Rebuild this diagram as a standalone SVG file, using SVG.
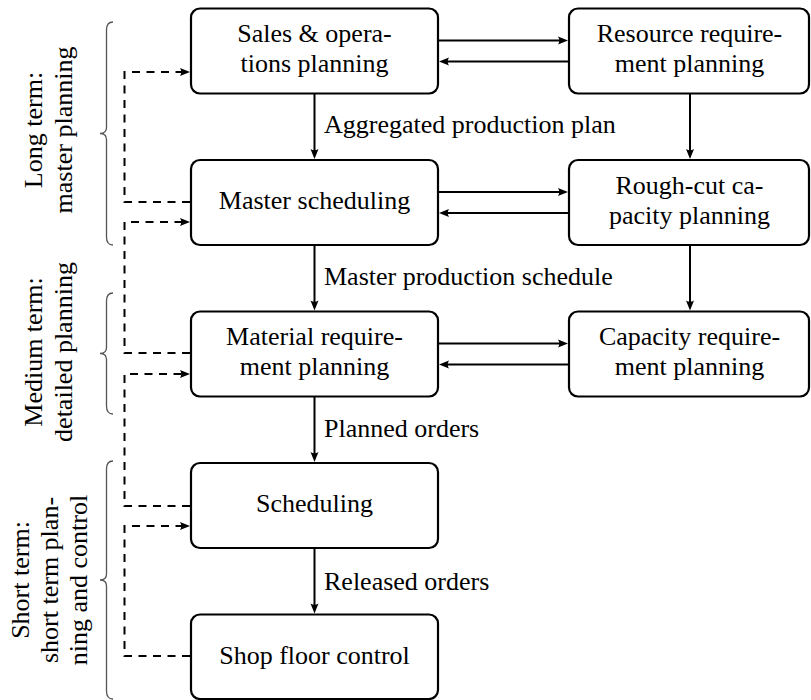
<svg xmlns="http://www.w3.org/2000/svg" width="811" height="700" viewBox="0 0 811 700">
<defs>
<marker id="ah" markerUnits="userSpaceOnUse" markerWidth="14" markerHeight="12" viewBox="-7 -6 14 12" refX="0" refY="0" orient="auto" overflow="visible">
<path d="M5,0 L-5,-4 Q-2.5,0 -5,4 Z" fill="#000"/>
</marker>
</defs>

<g id="labels-left">
<g fill="none" stroke="#555" stroke-width="1.3">
<path id="brace-long" d="M113,22 Q106.5,22 106.5,30 L106.5,127.5 Q106.5,133.5 100,133.5 Q106.5,133.5 106.5,139.5 L106.5,237 Q106.5,245 113,245"/>
<path id="brace-medium" d="M113,293 Q106.5,293 106.5,301 L106.5,347.5 Q106.5,353.5 100,353.5 Q106.5,353.5 106.5,359.5 L106.5,406 Q106.5,414 113,414"/>
<path id="brace-short" d="M113,461 Q106.5,461 106.5,469 L106.5,574 Q106.5,580 100,580 Q106.5,580 106.5,586 L106.5,691 Q106.5,699 113,699"/>
</g>
<text font-family="Liberation Serif" font-size="26" style="font-family:'Liberation Serif',serif" text-anchor="middle" transform="rotate(-90)"><tspan x="-130" y="42">Long term:</tspan><tspan x="-130" y="72">master planning</tspan></text>
<text font-family="Liberation Serif" font-size="26" style="font-family:'Liberation Serif',serif" text-anchor="middle" transform="rotate(-90)"><tspan x="-352" y="42">Medium term:</tspan><tspan x="-352" y="72">detailed planning</tspan></text>
<text font-family="Liberation Serif" font-size="26" style="font-family:'Liberation Serif',serif" text-anchor="middle" transform="rotate(-90)"><tspan x="-580" y="29">Short term:</tspan><tspan x="-580" y="58">short term plan-</tspan><tspan x="-580" y="87">ning and control</tspan></text>
</g>

<g id="connectors">
<g fill="none" stroke="#000" stroke-width="2">
<path d="M439,40.5 H563" marker-end="url(#ah)"/>
<path d="M568,61.5 H444" marker-end="url(#ah)"/>
<path d="M439,192 H563" marker-end="url(#ah)"/>
<path d="M568,213 H444" marker-end="url(#ah)"/>
<path d="M439,343.5 H563" marker-end="url(#ah)"/>
<path d="M568,364.5 H444" marker-end="url(#ah)"/>
<path d="M314.5,94 V154" marker-end="url(#ah)"/>
<path d="M314.5,245 V305.5" marker-end="url(#ah)"/>
<path d="M314.5,397 V457" marker-end="url(#ah)"/>
<path d="M314.5,548 V608.5" marker-end="url(#ah)"/>
<path d="M690,94 V154" marker-end="url(#ah)"/>
<path d="M690,245 V305.5" marker-end="url(#ah)"/>
</g>
<g fill="none" stroke="#000" stroke-width="2" stroke-dasharray="8 6.5">
<path d="M190,202 H124.5 V72 H185" marker-end="url(#ah)"/>
<path d="M190,353 H124.5 V222 H185" marker-end="url(#ah)"/>
<path d="M190,506 H124.5 V374 H185" marker-end="url(#ah)"/>
<path d="M190,656 H124.5 V526 H185" marker-end="url(#ah)"/>
</g>
<text font-family="Liberation Serif" font-size="26" style="font-family:'Liberation Serif',serif" x="324" y="133">Aggregated production plan</text>
<text font-family="Liberation Serif" font-size="26" style="font-family:'Liberation Serif',serif" x="324" y="285">Master production schedule</text>
<text font-family="Liberation Serif" font-size="26" style="font-family:'Liberation Serif',serif" x="324" y="437">Planned orders</text>
<text font-family="Liberation Serif" font-size="26" style="font-family:'Liberation Serif',serif" x="324" y="590">Released orders</text>
</g>

<g id="sop">
<rect x="191" y="8.5" width="247" height="85" rx="9" fill="#fff" stroke="#000" stroke-width="2.2"/>
<text font-family="Liberation Serif" font-size="26" style="font-family:'Liberation Serif',serif" text-anchor="middle"><tspan x="314.5" y="42">Sales &amp; opera-</tspan><tspan x="314.5" y="72">tions planning</tspan></text>
</g>
<g id="rrp">
<rect x="569" y="8.5" width="240" height="85" rx="9" fill="#fff" stroke="#000" stroke-width="2.2"/>
<text font-family="Liberation Serif" font-size="26" style="font-family:'Liberation Serif',serif" text-anchor="middle"><tspan x="689.5" y="42">Resource require-</tspan><tspan x="689.5" y="72">ment planning</tspan></text>
</g>
<g id="ms">
<rect x="191" y="160" width="247" height="85" rx="9" fill="#fff" stroke="#000" stroke-width="2.2"/>
<text font-family="Liberation Serif" font-size="26" style="font-family:'Liberation Serif',serif" text-anchor="middle" x="314.5" y="209">Master scheduling</text>
</g>
<g id="rccp">
<rect x="569" y="160" width="240" height="85" rx="9" fill="#fff" stroke="#000" stroke-width="2.2"/>
<text font-family="Liberation Serif" font-size="26" style="font-family:'Liberation Serif',serif" text-anchor="middle"><tspan x="689.5" y="193.5">Rough-cut ca-</tspan><tspan x="689.5" y="223.5">pacity planning</tspan></text>
</g>
<g id="mrp">
<rect x="191" y="311.5" width="247" height="85" rx="9" fill="#fff" stroke="#000" stroke-width="2.2"/>
<text font-family="Liberation Serif" font-size="26" style="font-family:'Liberation Serif',serif" text-anchor="middle"><tspan x="314.5" y="345">Material require-</tspan><tspan x="314.5" y="375">ment planning</tspan></text>
</g>
<g id="crp">
<rect x="569" y="311.5" width="240" height="85" rx="9" fill="#fff" stroke="#000" stroke-width="2.2"/>
<text font-family="Liberation Serif" font-size="26" style="font-family:'Liberation Serif',serif" text-anchor="middle"><tspan x="689.5" y="345">Capacity require-</tspan><tspan x="689.5" y="375">ment planning</tspan></text>
</g>
<g id="sched">
<rect x="191" y="463" width="247" height="85" rx="9" fill="#fff" stroke="#000" stroke-width="2.2"/>
<text font-family="Liberation Serif" font-size="26" style="font-family:'Liberation Serif',serif" text-anchor="middle" x="314.5" y="512">Scheduling</text>
</g>
<g id="sfc">
<rect x="191" y="614.5" width="247" height="84.5" rx="9" fill="#fff" stroke="#000" stroke-width="2.2"/>
<text font-family="Liberation Serif" font-size="26" style="font-family:'Liberation Serif',serif" text-anchor="middle" x="314.5" y="663.5">Shop floor control</text>
</g>
</svg>
